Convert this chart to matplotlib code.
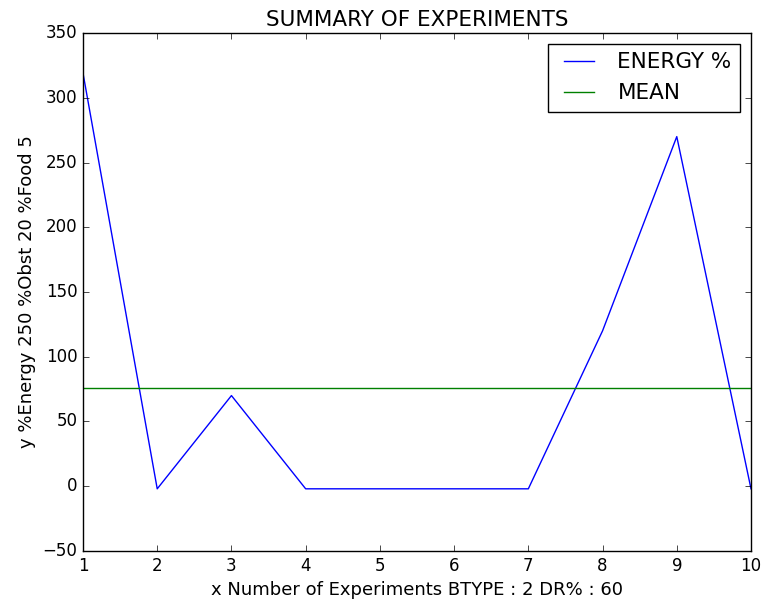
import matplotlib
matplotlib.use("Agg")
import matplotlib.pyplot as plt

plt.style.use("classic")

# experiment results
experiments = [1, 2, 3, 4, 5, 6, 7, 8, 9, 10]
energy = [319, -2, 70, -2, -2, -2, -2, 120, 270, -2]
mean_energy = 75.5

fig = plt.figure(figsize=(7.65, 6.08), dpi=100, facecolor="white")
ax = fig.add_axes([0.1085, 0.0938, 0.8732, 0.8519])

ax.plot(experiments, energy, color="blue", label="ENERGY %")
ax.plot(experiments, [mean_energy] * len(experiments), color="green", label="MEAN")

ax.set_xlim(1, 10)
ax.set_ylim(-50, 350)
ax.set_title("SUMMARY OF EXPERIMENTS", fontsize=15.5)
ax.set_xlabel("x Number of Experiments BTYPE : 2 DR% : 60", fontsize=13)
ax.set_ylabel("y %Energy 250 %Obst 20 %Food 5", fontsize=13)
ax.legend(loc="upper right", fontsize=15.5)

fig.savefig("out.png", dpi=100, facecolor="white")
